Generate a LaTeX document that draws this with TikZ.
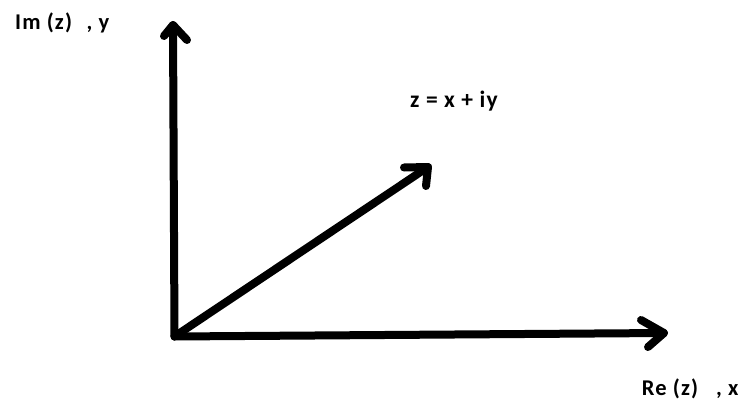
\documentclass[tikz,border=0pt]{standalone}
\usepackage{fontspec}
\setmainfont{Carlito}[LetterSpace=5]
\begin{document}
\begin{tikzpicture}[x=1pt,y=-1pt,
  axis/.style={line width=8pt,line cap=round,line join=round,black},
  lbl/.style={font=\bfseries\fontsize{22.5}{26}\selectfont,inner sep=0pt,anchor=base west,text=black}]
\useasboundingbox (0,0) rectangle (747,404);
% points
\coordinate (O) at (174.5,336.5);
\coordinate (ytip) at (173,25);
\coordinate (xtip) at (664,333);
\coordinate (ztip) at (428,167);
% axes
\draw[axis] (O) -- (ytip);
\draw[axis] (O) -- (xtip);
\draw[axis] (O) -- (ztip);
% arrowheads
\draw[axis] (164,36) -- (ytip) -- (187,40);
\draw[axis] (641,320) -- (xtip) -- (648,347);
\draw[axis] (404,167.5) -- (ztip) -- (426,186);
% labels
\node[lbl] (im) at (15,29.3) {Im (z)\hspace{0.65em}, y};
\node[lbl] (re) at (641.7,395.7) {Re (z)\hspace{0.8em}, x};
\node[lbl,font=\bfseries\fontsize{23.5}{27}\selectfont] (z) at (410,107) {z = x + iy};
\end{tikzpicture}
\end{document}
